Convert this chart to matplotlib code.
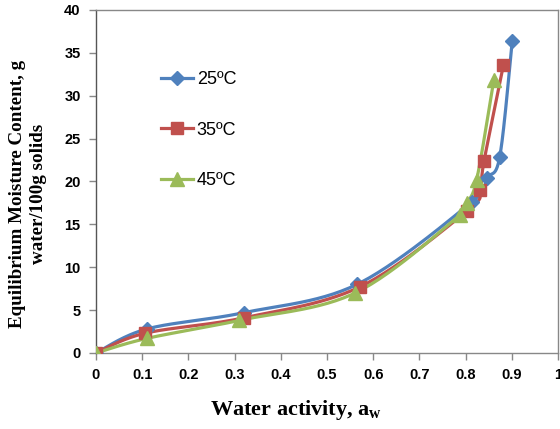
import numpy as np
import matplotlib
matplotlib.use("Agg")
import matplotlib.pyplot as plt
from matplotlib.lines import Line2D

# data
aw_25 = [0.0, 0.11, 0.32, 0.565, 0.813, 0.846, 0.874, 0.901]
emc_25 = [0.0, 2.8, 4.7, 8.0, 17.6, 20.4, 22.9, 36.4]
aw_35 = [0.0, 0.106, 0.32, 0.571, 0.804, 0.831, 0.840, 0.882]
emc_35 = [0.0, 2.3, 4.1, 7.7, 16.6, 19.0, 22.4, 33.6]
aw_45 = [0.0, 0.11, 0.31, 0.561, 0.788, 0.802, 0.824, 0.861]
emc_45 = [0.0, 1.7, 3.8, 7.0, 16.1, 17.5, 20.2, 31.8]

labels = ["25ºC", "35ºC", "45ºC"]
colors = ["#4F81BD", "#C0504D", "#9BBB59"]
markers = ["D", "s", "^"]
msizes = [7, 9, 10]
xticks = np.arange(0, 1.01, 0.1)
xtick_labels = ["0", "0.1", "0.2", "0.3", "0.4", "0.5", "0.6", "0.7", "0.8", "0.9", "1"]
yticks = np.arange(0, 41, 5)


def smooth(x, y, n=30):
    # excel-style smoothed line (catmull-rom bezier)
    p = np.column_stack([x, y])
    pts = []
    for i in range(len(p) - 1):
        p0 = p[i - 1] if i > 0 else p[i]
        p1, p2 = p[i], p[i + 1]
        p3 = p[i + 2] if i + 2 < len(p) else p[i + 1]
        c1 = p1 + (p2 - p0) / 6
        c2 = p2 - (p3 - p1) / 6
        t = np.linspace(0, 1, n)[:, None]
        seg = ((1 - t) ** 3) * p1 + 3 * ((1 - t) ** 2) * t * c1 + 3 * (1 - t) * t ** 2 * c2 + t ** 3 * p2
        pts.append(seg)
    pts = np.vstack(pts)
    return pts[:, 0], pts[:, 1]


fig = plt.figure(figsize=(5.6, 4.29), dpi=100)
ax = fig.add_axes([0.1714, 0.1772, 0.825, 0.7995])

series = [(aw_25, emc_25), (aw_35, emc_35), (aw_45, emc_45)]
handles = []
for (x, y), lab, c, m, ms in zip(series, labels, colors, markers, msizes):
    sx, sy = smooth(x, y)
    ax.plot(sx, sy, color=c, lw=2.3, zorder=2)
    ax.plot(x, y, ls="none", marker=m, ms=ms, color=c, zorder=3)
    handles.append(Line2D([], [], color=c, lw=2.3, marker=m, ms=ms))

ax.set_xlim(0, 1)
ax.set_ylim(0, 40)
ax.set_xticks(xticks)
ax.set_xticklabels(xtick_labels)
ax.set_yticks(yticks)
ax.tick_params(direction="out", length=5, width=1, color="#888888", pad=6)
for lab in ax.get_xticklabels() + ax.get_yticklabels():
    lab.set_fontfamily("Liberation Sans")
    lab.set_fontweight("bold")
    lab.set_fontsize(10.5)
for sp in ax.spines.values():
    sp.set_color("#888888")
    sp.set_linewidth(1)
ax.spines["left"].set_color("#555555")

fig.text(0.528, 0.044, "Water activity, a$_\\mathregular{w}$", ha="center", va="center",
         fontfamily="Liberation Serif", fontweight="bold", fontsize=16)
fig.text(0.031, 0.547, "Equilibrium Moisture Content, g", rotation=90, ha="center", va="center",
         fontfamily="Liberation Serif", fontweight="bold", fontsize=13.7)
fig.text(0.069, 0.547, "water/100g solids", rotation=90, ha="center", va="center",
         fontfamily="Liberation Serif", fontweight="bold", fontsize=13.7)

leg = fig.legend(handles, labels, loc="upper left", bbox_to_anchor=(0.258, 0.872),
                 frameon=False, labelspacing=1.85, handlelength=1.8, handletextpad=0.2,
                 prop={"family": "Liberation Sans", "size": 13})

fig.savefig("out.png", dpi=100)
